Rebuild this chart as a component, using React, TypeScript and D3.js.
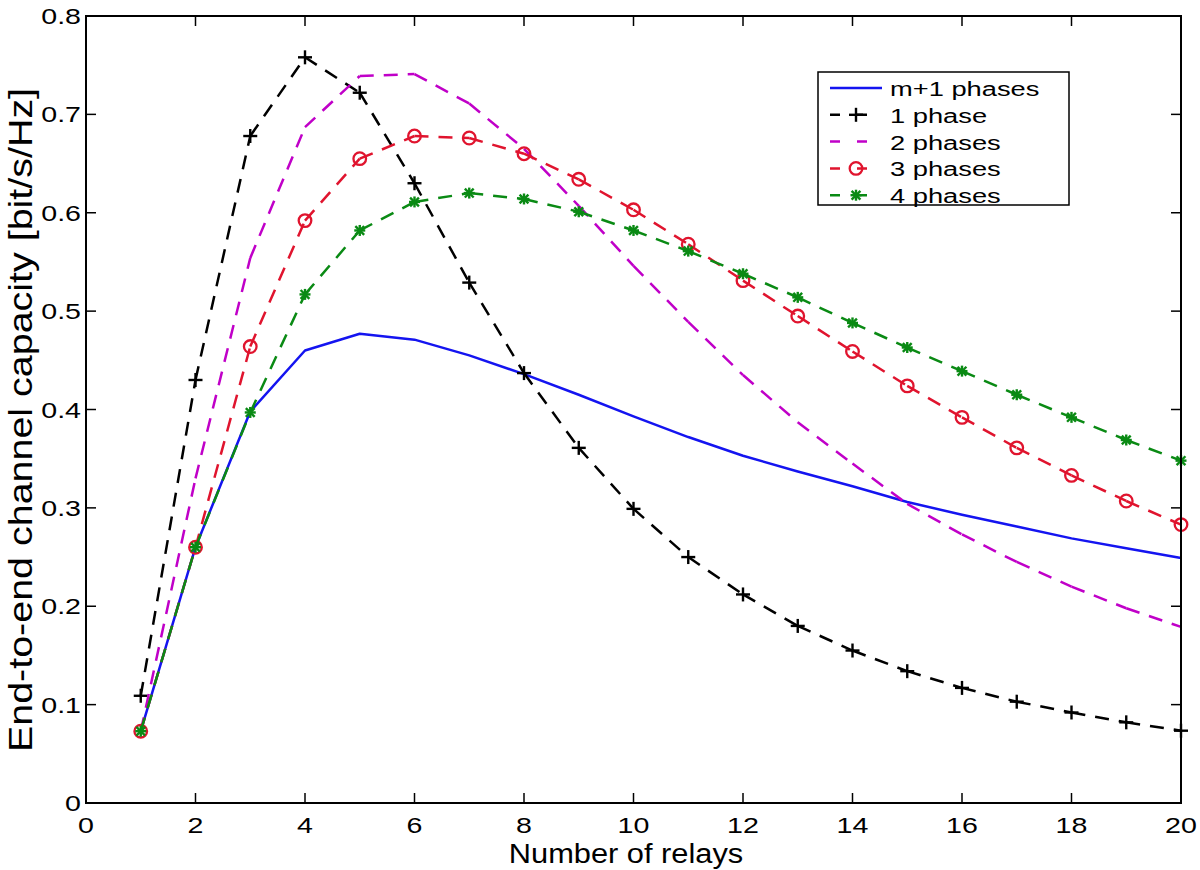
import React from "react";
import * as d3 from "d3";

const relays = [1, 2, 3, 4, 5, 6, 7, 8, 9, 10, 11, 12, 13, 14, 15, 16, 17, 18, 19, 20];
const mPlus1Phases = [0.073, 0.26, 0.398, 0.46, 0.477, 0.471, 0.455, 0.436, 0.415, 0.393, 0.372, 0.353, 0.337, 0.322, 0.306, 0.293, 0.281, 0.269, 0.259, 0.249];
const onePhase = [0.109, 0.43, 0.678, 0.758, 0.722, 0.63, 0.529, 0.437, 0.361, 0.299, 0.25, 0.212, 0.18, 0.155, 0.134, 0.117, 0.103, 0.092, 0.082, 0.0735];
const twoPhases = [0.073, 0.33, 0.554, 0.687, 0.739, 0.741, 0.711, 0.665, 0.607, 0.546, 0.489, 0.435, 0.387, 0.345, 0.304, 0.273, 0.245, 0.22, 0.198, 0.179];
const threePhases = [0.073, 0.26, 0.464, 0.592, 0.655, 0.678, 0.676, 0.66, 0.634, 0.603, 0.568, 0.531, 0.495, 0.459, 0.424, 0.392, 0.361, 0.333, 0.307, 0.283];
const fourPhases = [0.073, 0.26, 0.397, 0.517, 0.582, 0.611, 0.62, 0.614, 0.601, 0.582, 0.561, 0.538, 0.514, 0.488, 0.463, 0.439, 0.415, 0.392, 0.369, 0.348];

const xTicks = [0, 2, 4, 6, 8, 10, 12, 14, 16, 18, 20];
const yTicks = [0, 0.1, 0.2, 0.3, 0.4, 0.5, 0.6, 0.7, 0.8];
const yTickLabels = ["0", "0.1", "0.2", "0.3", "0.4", "0.5", "0.6", "0.7", "0.8"];

const seriesNames = ["m+1 phases", "1 phase", "2 phases", "3 phases", "4 phases"];
const seriesColors = ["#1414f0", "#000000", "#c000c8", "#e0142e", "#0a8a14"];
const seriesMarkers = ["none", "plus", "none", "circle", "star"];
const seriesDashed = [false, true, true, true, true];
const seriesValues = [mPlus1Phases, onePhase, twoPhases, threePhases, fourPhases];

const xLabel = "Number of relays";
const yLabel = "End-to-end channel capacity [bit/s/Hz]";

const FONT = "'Liberation Sans', Arial, Helvetica, sans-serif";

function Marker({ type, cx, cy, color }: { type: string; cx: number; cy: number; color: string }) {
  if (type === "plus") {
    const s = 7;
    return (
      <g stroke={color} strokeWidth={2.4}>
        <line x1={cx - s} y1={cy} x2={cx + s} y2={cy} />
        <line x1={cx} y1={cy - s} x2={cx} y2={cy + s} />
      </g>
    );
  }
  if (type === "circle") {
    return <circle cx={cx} cy={cy} r={6.3} fill="none" stroke={color} strokeWidth={2.3} />;
  }
  if (type === "star") {
    const s = 5.5;
    const d = s * 0.8;
    return (
      <g stroke={color} strokeWidth={2.4}>
        <line x1={cx - s} y1={cy} x2={cx + s} y2={cy} />
        <line x1={cx} y1={cy - s} x2={cx} y2={cy + s} />
        <line x1={cx - d} y1={cy - d} x2={cx + d} y2={cy + d} />
        <line x1={cx - d} y1={cy + d} x2={cx + d} y2={cy - d} />
      </g>
    );
  }
  return null;
}

export default function App() {
  const x = d3.scaleLinear().domain([0, 20]).range([86, 1181]);
  const y = d3.scaleLinear().domain([0, 0.8]).range([803, 16]);
  const left = x(0), right = x(20), top = y(0.8), bottom = y(0);
  const tickLen = 10;
  const dash = "14 10";

  const lineGen = d3.line<number>().x((_, i) => x(relays[i])).y((v) => y(v));

  const legendX = 818, legendY = 72, legendW = 251, legendH = 133;
  const rowH = 26.8;

  return (
    <svg width={1200} height={870} style={{ display: "block", position: "absolute", left: 0, top: 0, background: "#fff" }}>
      <rect x={0} y={0} width={1200} height={870} fill="#fff" />
      {seriesValues.map((vals, si) => {
        const color = seriesColors[si];
        if (!seriesDashed[si]) {
          return <path key={si} d={lineGen(vals) || ""} fill="none" stroke={color} strokeWidth={2.5} strokeLinejoin="round" />;
        }
        return (
          <g key={si}>
            {vals.slice(0, -1).map((v, i) => (
              <line key={i} x1={x(relays[i])} y1={y(v)} x2={x(relays[i + 1])} y2={y(vals[i + 1])}
                stroke={color} strokeWidth={2.5} strokeDasharray={dash} />
            ))}
            {vals.map((v, i) => (
              <Marker key={"m" + i} type={seriesMarkers[si]} cx={x(relays[i])} cy={y(v)} color={color} />
            ))}
          </g>
        );
      })}
      <rect x={left} y={top} width={right - left} height={bottom - top} fill="none" stroke="#000" strokeWidth={2} />
      {xTicks.map((t) => (
        <g key={"xt" + t}>
          <line x1={x(t)} y1={bottom} x2={x(t)} y2={bottom - tickLen} stroke="#000" strokeWidth={1.5} />
          <line x1={x(t)} y1={top} x2={x(t)} y2={top + tickLen} stroke="#000" strokeWidth={1.5} />
          <text transform={`translate(${x(t)},${bottom + 30}) scale(1.3,1)`} textAnchor="middle"
            fontFamily={FONT} fontSize={22} fill="#000">{t}</text>
        </g>
      ))}
      {yTicks.map((t, i) => (
        <g key={"yt" + t}>
          <line x1={left} y1={y(t)} x2={left + tickLen} y2={y(t)} stroke="#000" strokeWidth={1.5} />
          <line x1={right} y1={y(t)} x2={right - tickLen} y2={y(t)} stroke="#000" strokeWidth={1.5} />
          <text transform={`translate(${left - 5},${y(t) + 8}) scale(1.3,1)`} textAnchor="end"
            fontFamily={FONT} fontSize={22} fill="#000">{yTickLabels[i]}</text>
        </g>
      ))}
      <text transform={`translate(626,863) scale(1.1,1)`} textAnchor="middle" fontFamily={FONT} fontSize={28} fill="#000">{xLabel}</text>
      <text transform={`translate(32,420) rotate(-90) scale(1.16,1)`} textAnchor="middle" fontFamily={FONT} fontSize={34} fill="#000">{yLabel}</text>
      <rect x={legendX} y={legendY} width={legendW} height={legendH} fill="#fff" stroke="#000" strokeWidth={1.5} />
      {seriesNames.map((name, i) => {
        const cy = legendY + 16 + i * rowH;
        const color = seriesColors[i];
        return (
          <g key={"lg" + i}>
            <line x1={830} y1={cy} x2={seriesDashed[i] ? 869 : 882} y2={cy} stroke={color} strokeWidth={2.5}
              strokeDasharray={seriesDashed[i] ? "10 17" : undefined} />
            <Marker type={seriesMarkers[i]} cx={856} cy={cy} color={color} />
            <text transform={`translate(890,${cy + 8}) scale(1.3,1)`} fontFamily={FONT} fontSize={21} fill="#000">{name}</text>
          </g>
        );
      })}
    </svg>
  );
}
